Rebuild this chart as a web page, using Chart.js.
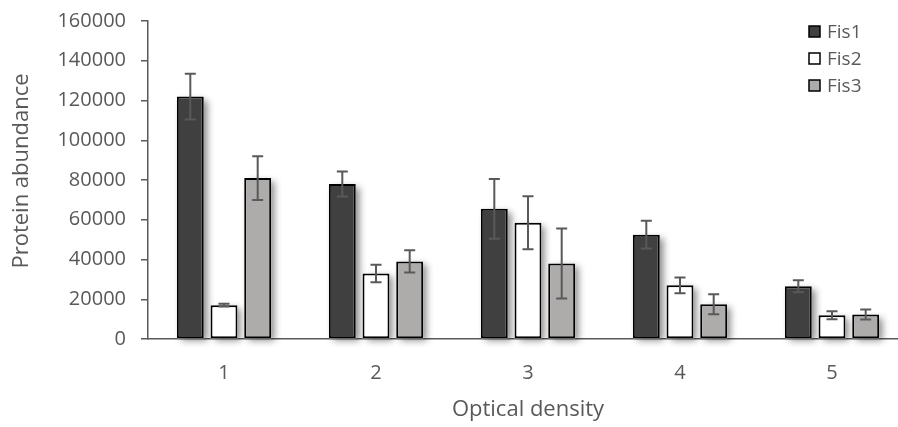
<!DOCTYPE html>
<html>
<head>
<meta charset="utf-8">
<script src="https://cdn.jsdelivr.net/npm/chart.js@4/dist/chart.umd.min.js"></script>
<style>
  html, body { margin: 0; padding: 0; background: #fff; overflow: hidden; }
  #wrap { width: 910px; height: 427px; }
</style>
</head>
<body>
<div id="wrap"><canvas id="chart"></canvas></div>
<script>
// === Datos
const categories = ["1", "2", "3", "4", "5"];
const fis1 = [122000, 78000, 65500, 52500, 26500];
const fis2 = [17000, 33000, 58500, 27000, 12000];
const fis3 = [81000, 39000, 38000, 17500, 12300];
const fis1Err = [11500, 6300, 15000, 7000, 3000];
const fis2Err = [700, 4400, 13300, 4000, 2000];
const fis3Err = [11000, 5600, 17600, 5000, 2500];
const yTicks = [0, 20000, 40000, 60000, 80000, 100000, 120000, 140000, 160000];
const yTitle = "Protein abundance";

const grey = "#595959";
const font = "'Open Sans', sans-serif";

// sombra de las barras (dibujada antes de las barras)
const shadowPlugin = {
  id: "shadow",
  beforeDatasetsDraw(chart) {
    const ctx = chart.ctx;
    ctx.save();
    ctx.shadowColor = "rgba(0,0,0,0.45)";
    ctx.shadowBlur = 7;
    ctx.shadowOffsetX = 4;
    ctx.shadowOffsetY = 3;
    ctx.fillStyle = "#fff";
    chart.data.datasets.forEach((ds, i) => {
      chart.getDatasetMeta(i).data.forEach(b => {
        const p = b.getProps(["x", "y", "base", "width"], true);
        ctx.fillRect(p.x - p.width / 2, p.y, p.width, p.base - p.y);
      });
    });
    ctx.restore();
  }
};

// barras de error
const errorPlugin = {
  id: "errors",
  afterDatasetsDraw(chart) {
    const ctx = chart.ctx;
    const y = chart.scales.y;
    ctx.save();
    ctx.strokeStyle = grey;
    ctx.lineWidth = 2;
    chart.data.datasets.forEach((ds, i) => {
      const meta = chart.getDatasetMeta(i);
      meta.data.forEach((bar, j) => {
        const v = ds.data[j], e = ds.errors[j];
        const top = y.getPixelForValue(v + e);
        const bot = y.getPixelForValue(v - e);
        const x = bar.x;
        ctx.beginPath();
        ctx.moveTo(x, top); ctx.lineTo(x, bot);
        ctx.moveTo(x - 5.5, top); ctx.lineTo(x + 5.5, top);
        ctx.moveTo(x - 5.5, bot); ctx.lineTo(x + 5.5, bot);
        ctx.stroke();
      });
    });
    ctx.restore();
  }
};

// leyenda dentro del área del gráfico + título del eje Y
const legendPlugin = {
  id: "boxLegend",
  afterDraw(chart) {
    const ctx = chart.ctx;
    ctx.save();
    ctx.font = "19px " + font;
    ctx.textBaseline = "middle";
    chart.data.datasets.forEach((ds, i) => {
      const cy = 32 + i * 27;
      ctx.fillStyle = ds.backgroundColor;
      ctx.fillRect(809, cy - 6, 11, 11);
      ctx.strokeStyle = "#000";
      ctx.lineWidth = 1.5;
      ctx.strokeRect(809, cy - 6, 11, 11);
      ctx.fillStyle = grey;
      ctx.fillText(ds.label, 827, cy + 1);
    });
    ctx.translate(22, 171);
    ctx.rotate(-Math.PI / 2);
    ctx.font = "22px " + font;
    ctx.textAlign = "center";
    ctx.fillText(yTitle, 0, 0);
    ctx.restore();
  }
};

function bar(label, data, errors, color) {
  return {
    label, data, errors,
    backgroundColor: color,
    borderColor: "#000",
    borderWidth: 2,
    borderSkipped: false,
    barPercentage: 0.8,
    categoryPercentage: 0.665
  };
}

new Chart(document.getElementById("chart"), {
  type: "bar",
  data: {
    labels: categories,
    datasets: [
      bar("Fis1", fis1, fis1Err, "#404040"),
      bar("Fis2", fis2, fis2Err, "#ffffff"),
      bar("Fis3", fis3, fis3Err, "#AEABAB")
    ]
  },
  options: {
    responsive: true,
    maintainAspectRatio: false,
    animation: false,
    layout: { padding: { top: 21, right: 2, left: 0, bottom: 0 } },
    plugins: { legend: { display: false }, tooltip: { enabled: false } },
    scales: {
      x: {
        grid: { display: false },
        border: { color: grey, width: 1.5 },
        ticks: { color: grey, font: { family: font, size: 20 }, padding: 14 },
        title: { display: true, text: "Optical density", color: grey, font: { family: font, size: 22 }, padding: { top: 6 } },
        afterFit(s) { s.height = 88; }
      },
      y: {
        min: 0, max: 160000,
        afterBuildTicks(s) { s.ticks = yTicks.map(v => ({ value: v })); },
        grid: { drawOnChartArea: false, drawTicks: true, tickLength: 7, color: grey, lineWidth: 1.5 },
        border: { color: grey, width: 1.5 },
        ticks: { color: grey, font: { family: font, size: 20, lineHeight: 1 }, padding: 15, callback: v => String(v) },
        afterFit(s) { s.width = 148; s.paddingTop = 0; }
      }
    }
  },
  plugins: [shadowPlugin, errorPlugin, legendPlugin]
});
</script>
</body>
</html>
